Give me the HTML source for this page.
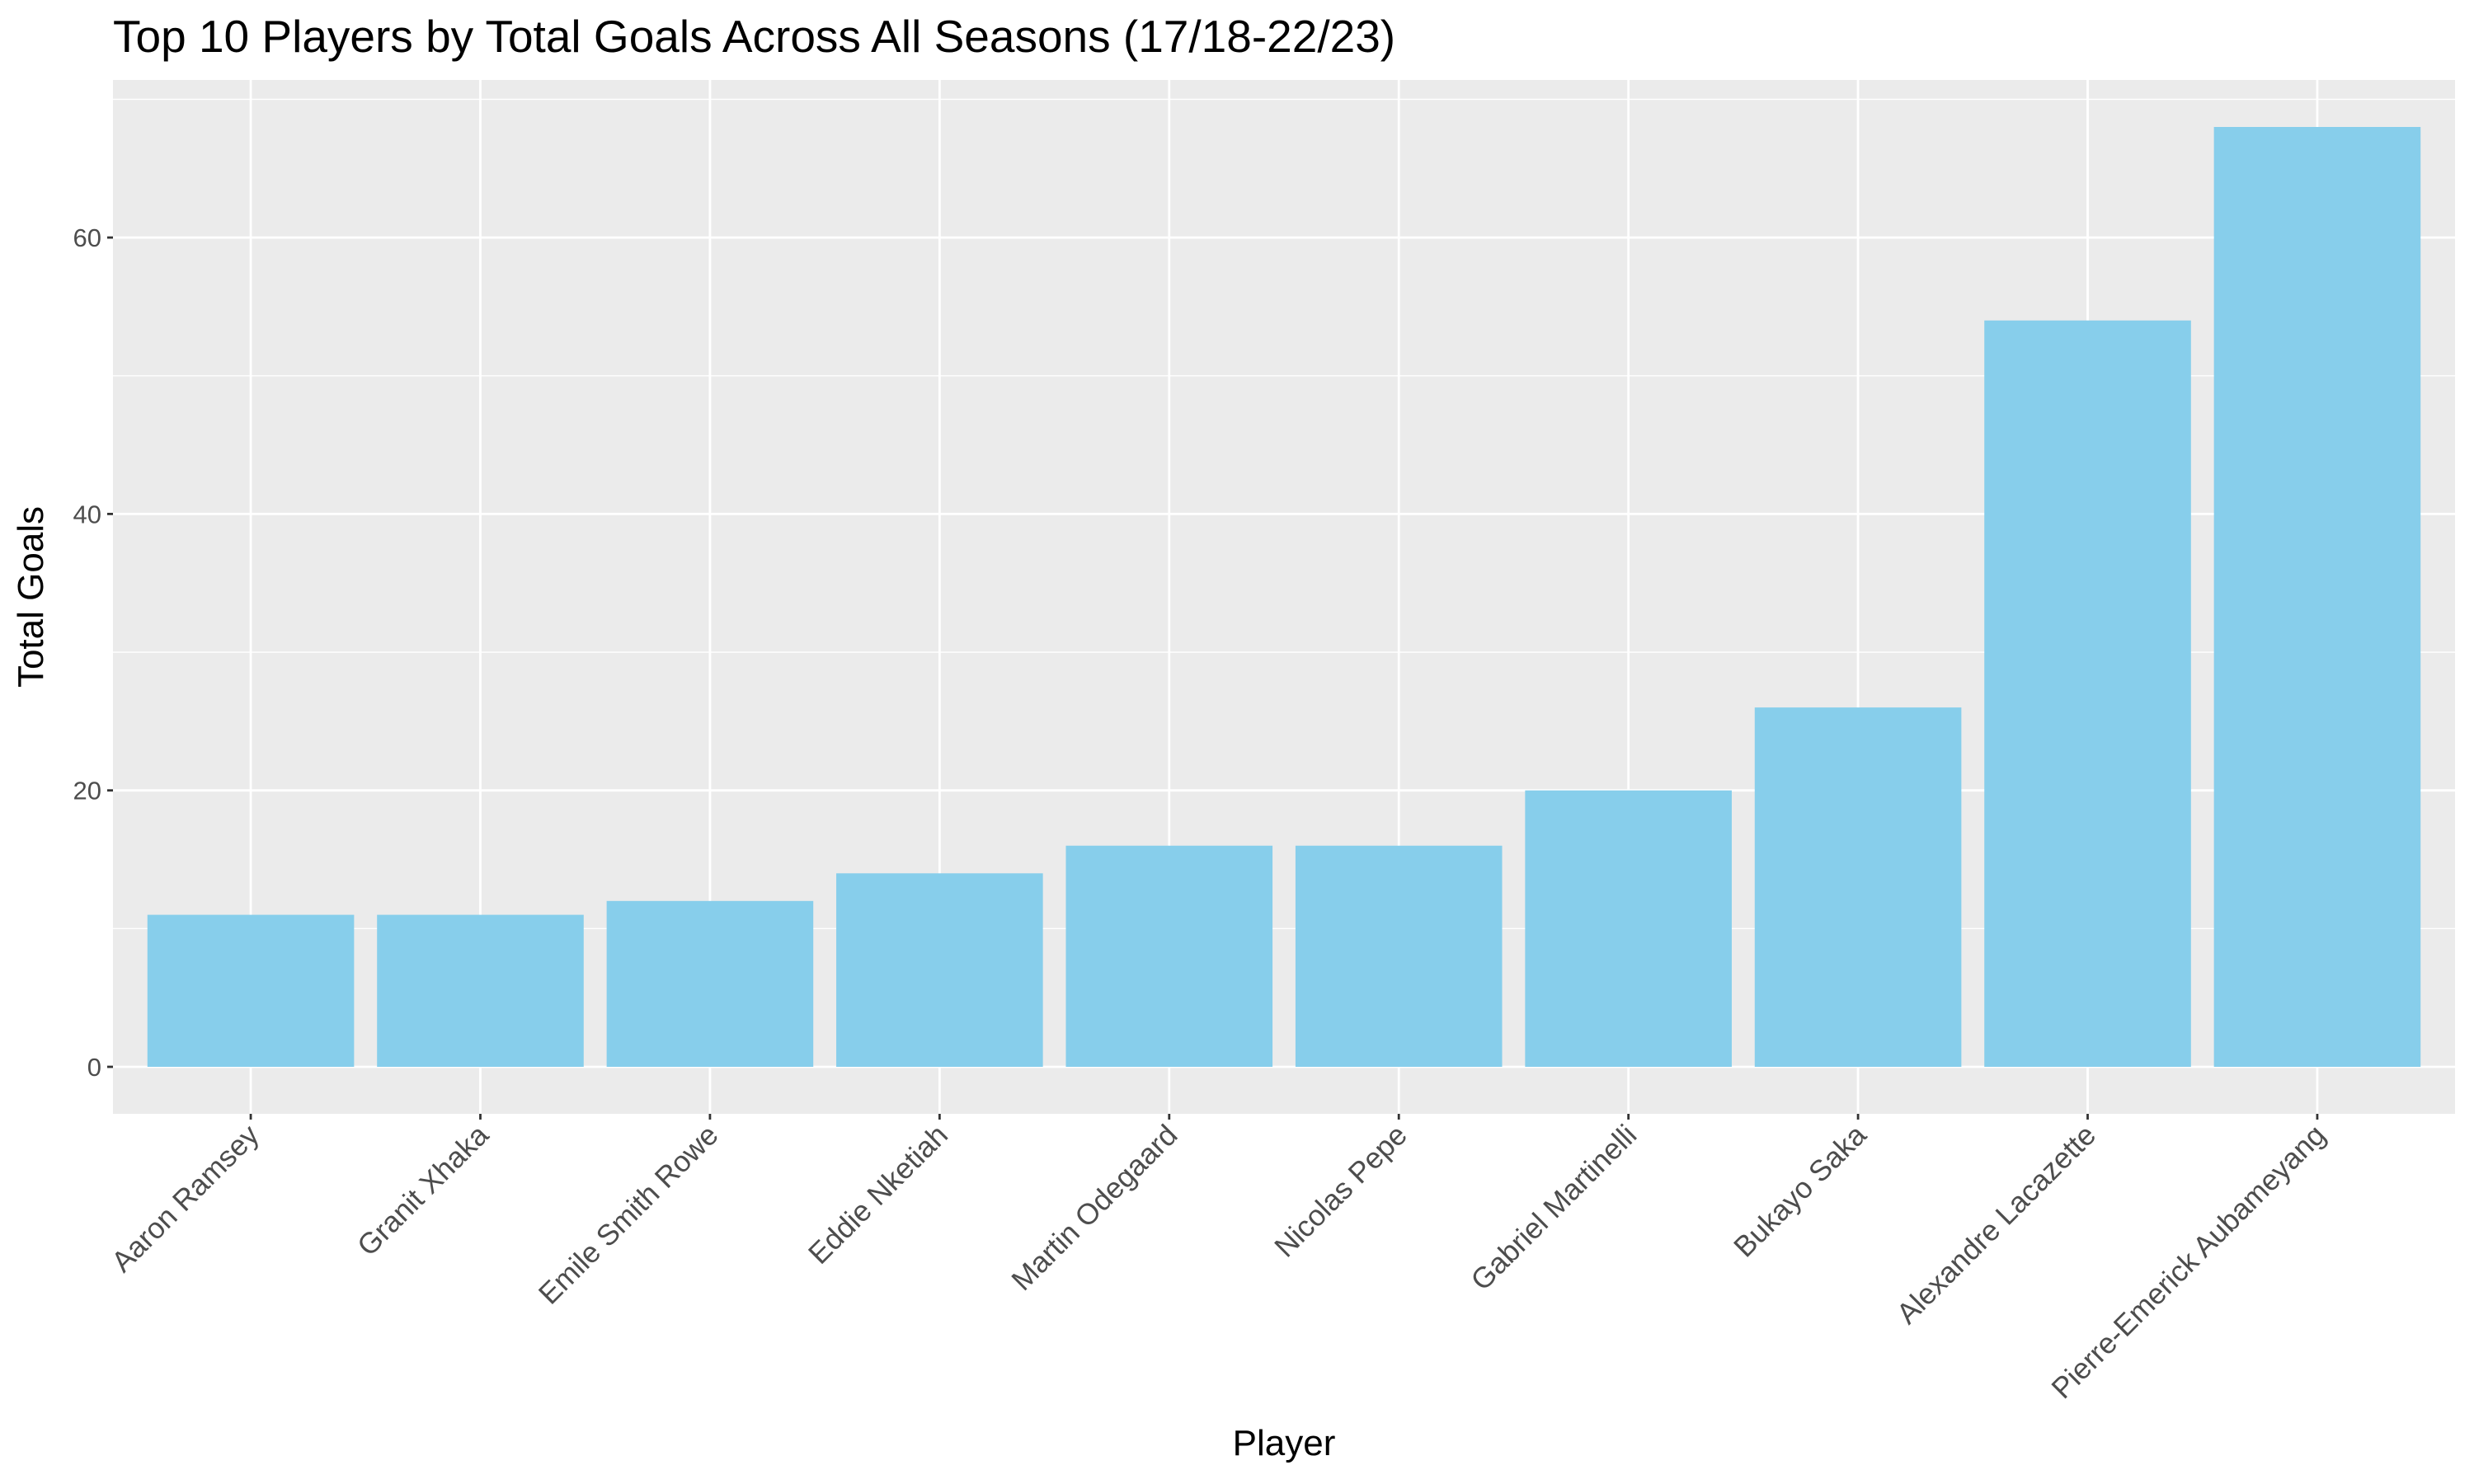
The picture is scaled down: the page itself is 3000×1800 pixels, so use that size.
<!DOCTYPE html>
<html><head><meta charset="utf-8"><style>
body{margin:0;background:#fff}
svg{display:block;font-family:"Liberation Sans",Arial,sans-serif}
</style></head><body>
<svg id="chart" width="3000" height="1800" viewBox="0 0 3000 1800">
<text x="137" y="63" font-size="55" fill="#000">Top 10 Players by Total Goals Across All Seasons (17/18-22/23)</text>
<rect x="137" y="97" width="2840" height="1254" fill="#ebebeb"/>
<g id="grid"></g><g id="bars"></g><g id="axes"></g>
<text x="1557" y="1765" font-size="44" text-anchor="middle" fill="#000">Player</text>
<text transform="translate(52,724) rotate(-90)" font-size="44" text-anchor="middle" fill="#000">Total Goals</text>
</svg>
<script>
const players=["Aaron Ramsey","Granit Xhaka","Emile Smith Rowe","Eddie Nketiah","Martin Odegaard","Nicolas Pepe","Gabriel Martinelli","Bukayo Saka","Alexandre Lacazette","Pierre-Emerick Aubameyang"];
const goals=[11,11,12,14,16,16,20,26,54,68];
const yTicks=[0,20,40,60];
const yMinor=[10,30,50,70];
const NS="http://www.w3.org/2000/svg";
const L=137,R=2977,T=97,B=1351;
const ymax=Math.max(...goals);
const ylo=-0.05*ymax, yhi=ymax*1.05;
const y=v=>B-(v-ylo)/(yhi-ylo)*(B-T);
const n=players.length;
const step=(R-L)/(n+0.2);
const x=i=>L+step*(0.6+i);
function mk(tag,at,parent){const e=document.createElementNS(NS,tag);for(const k in at)e.setAttribute(k,at[k]);parent.appendChild(e);return e;}
const grid=document.getElementById('grid'),bars=document.getElementById('bars'),axes=document.getElementById('axes');
yMinor.forEach(v=>{if(y(v)<T)return;const l=mk('line',{x1:L,x2:R,y1:y(v),y2:y(v),stroke:'#fff','stroke-width':1.4},grid);

});
yTicks.forEach(v=>{const l=mk('line',{x1:L,x2:R,y1:y(v),y2:y(v),stroke:'#fff','stroke-width':2.8},grid);


const t=mk('line',{x1:L-7,x2:L,y1:y(v),y2:y(v),stroke:'#333','stroke-width':2.8},axes);


const tx=mk('text',{x:L-14,y:y(v)+11,'font-size':31,'text-anchor':'end',fill:'#4d4d4d'},axes);tx.textContent=v;

});
players.forEach((p,i)=>{const cx=x(i);
const g=mk('line',{x1:cx,x2:cx,y1:T,y2:B,stroke:'#fff','stroke-width':2.8},grid);


const bw=step*0.9;
const b=mk('rect',{x:cx-bw/2,y:y(goals[i]),width:bw,height:y(0)-y(goals[i]),fill:'#87ceeb'},bars);


const t=mk('line',{x1:cx,x2:cx,y1:B,y2:B+7,stroke:'#333','stroke-width':2.8},axes);


const tx=mk('text',{transform:`translate(${cx+12},${B+28}) rotate(-45)`,'font-size':35.5,'text-anchor':'end',fill:'#4d4d4d'},axes);tx.textContent=p;

});
</script>
</body></html>
